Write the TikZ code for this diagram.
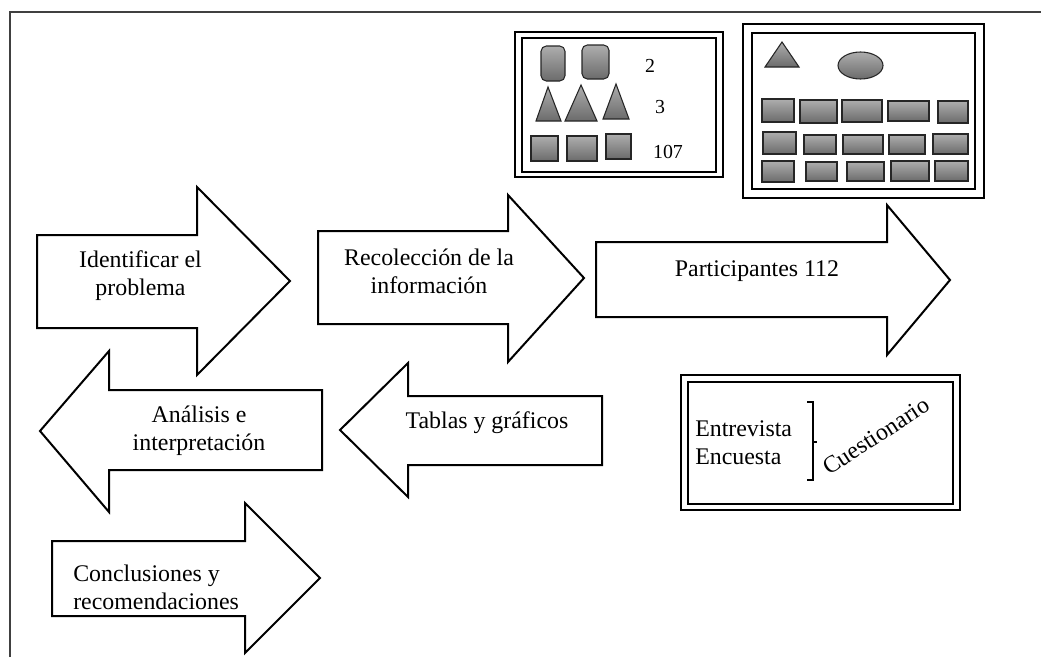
\documentclass[tikz,border=0pt]{standalone}
\usepackage{fontspec}
\setmainfont{Liberation Serif}
\definecolor{shtop}{gray}{0.68}
\definecolor{shbot}{gray}{0.42}
\definecolor{framec}{gray}{0.25}
\begin{document}
\begin{tikzpicture}[x=0.75pt,y=-0.75pt,
  arrowshape/.style={draw=black,fill=white,line width=1.5pt,line join=miter},
  lbl/.style={inner sep=0pt,align=center,font=\fontsize{17.9}{21}\selectfont},
  lbll/.style={inner sep=0pt,align=left,font=\fontsize{17.9}{21}\selectfont},
  num/.style={inner sep=0pt,anchor=base,font=\fontsize{14.9}{17}\selectfont},
  solid shape/.style={draw=black!85,line width=0.8pt,top color=shtop,bottom color=shbot},
  outerbox/.style={draw=black,line width=1.8pt},
  innerbox/.style={draw=black,line width=1.5pt},
  frame/.style={draw=framec,line width=0.8pt}]
\useasboundingbox (0,0) rectangle (1041,657);
% frame
\draw[frame] (10,657) -- (10,12) -- (1041,12);

% ---------- arrows ----------
% Identificar el problema
\draw[arrowshape] (37,235) -- (197,235) -- (197,187) -- (290,281) -- (197,375) -- (197,328) -- (37,328) -- cycle;
\node[lbl] (identificar) at (140.5,275.5) {Identificar el\\problema};
% Recoleccion
\draw[arrowshape] (318,231) -- (508,231) -- (508,195) -- (584,278) -- (508,362) -- (508,324) -- (318,324) -- cycle;
\node[lbl] (recoleccion) at (429,271) {Recolección de la\\información};
% Participantes
\draw[arrowshape] (596,242) -- (887,242) -- (887,205) -- (950,280) -- (887,355) -- (887,317) -- (596,317) -- cycle;
\node[lbl] (participantes) at (757,271.5) {Participantes 112};
% Tablas y graficos (left)
\draw[arrowshape] (602,396) -- (408,396) -- (408,363) -- (340,430) -- (408,497) -- (408,465) -- (602,465) -- cycle;
\node[lbl] (tablas) at (487,422.5) {Tablas y gráficos};
% Analisis (left)
\draw[arrowshape] (322,390) -- (109,390) -- (109,351) -- (40,431) -- (109,512) -- (109,470) -- (322,470) -- cycle;
\node[lbl] (analisis) at (199,431) {Análisis e\\interpretación};
% Conclusiones
\draw[arrowshape] (52,541) -- (245,541) -- (245,503) -- (320,578) -- (245,653) -- (245,616) -- (52,616) -- cycle;
\node[lbll,anchor=west] (conclusiones) at (73,587.5) {Conclusiones y\\recomendaciones};

% ---------- top-left box ----------
\draw[outerbox] (515,32) rectangle (723,177);
\draw[innerbox] (522,38) rectangle (716,172);
\draw[solid shape,rounded corners=4pt] (541,46) rectangle (565,81);
\draw[solid shape,rounded corners=4pt] (582,45) rectangle (609,79);
\node[num] (n2) at (650,72) {2};
\draw[solid shape] (536,121) -- (548,87) -- (561,121) -- cycle;
\draw[solid shape] (565,121) -- (581,85) -- (597,121) -- cycle;
\draw[solid shape] (603,119) -- (616,84) -- (629,119) -- cycle;
\node[num] (n3) at (660,113) {3};
\draw[solid shape] (531,136) rectangle (558,161);
\draw[solid shape] (567,136) rectangle (597,161);
\draw[solid shape] (606,134) rectangle (631,159);
\node[num] (n107) at (668,158) {107};

% ---------- top-right box ----------
\draw[outerbox] (743,24) rectangle (984,198);
\draw[innerbox] (752,33) rectangle (975,189);
\draw[solid shape] (765,67) -- (782,42) -- (799,67) -- cycle;
\draw[solid shape] (860.5,65.5) ellipse [x radius=22.5, y radius=13.5];
% row 1
\draw[solid shape] (762,99) rectangle (794,122);
\draw[solid shape] (800,100) rectangle (837,123);
\draw[solid shape] (842,100) rectangle (882,122);
\draw[solid shape] (888,101) rectangle (929,121);
\draw[solid shape] (938,101) rectangle (968,123);
% row 2
\draw[solid shape] (763,132) rectangle (796,154);
\draw[solid shape] (804,135) rectangle (836,154);
\draw[solid shape] (843,135) rectangle (883,154);
\draw[solid shape] (889,135) rectangle (925,154);
\draw[solid shape] (933,134) rectangle (968,154);
% row 3
\draw[solid shape] (762,161) rectangle (794,182);
\draw[solid shape] (806,162) rectangle (837,181);
\draw[solid shape] (847,162) rectangle (884,181);
\draw[solid shape] (891,161) rectangle (929,181);
\draw[solid shape] (935,161) rectangle (968,181);

% ---------- bottom-right box ----------
\draw[outerbox] (681,375) rectangle (960,510);
\draw[innerbox] (688,382) rectangle (953,504);
\node[lbll,anchor=west] (entrevista) at (695,443) {Entrevista\\Encuesta};
\draw[line width=0.8pt] (807,402) -- (813,402) -- (813,480) -- (807,480);
\draw[line width=0.8pt] (813,442) -- (817,442);
\node[lbl,rotate=33] (cuestionario) at (876,436) {Cuestionario};
\end{tikzpicture}
\end{document}
